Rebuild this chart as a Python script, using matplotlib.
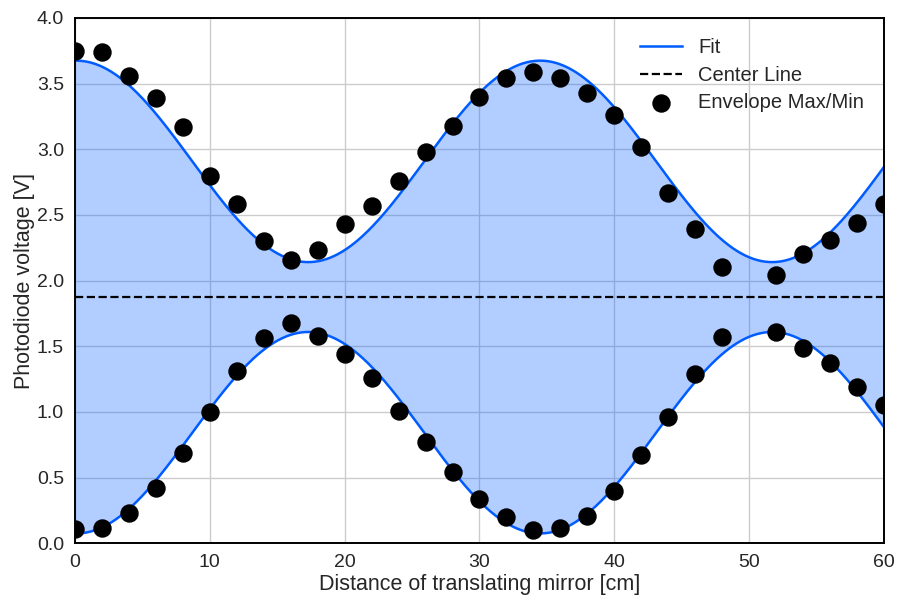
import numpy as np
import matplotlib
matplotlib.use("Agg")
import matplotlib.pyplot as plt

plt.rcParams['font.family'] = ['Liberation Sans', 'DejaVu Sans']

# Measured envelope maxima / minima of the photodiode signal
positions = [0, 2, 4, 6, 8, 10, 12, 14, 16, 18, 20, 22, 24, 26, 28,
             30, 32, 34, 36, 38, 40, 42, 44, 46, 48, 52, 54, 56, 58, 60]
env_max = [3.75, 3.74, 3.56, 3.39, 3.17, 2.80, 2.58, 2.30, 2.16, 2.23, 2.43, 2.57, 2.76, 2.98, 3.18,
           3.40, 3.54, 3.59, 3.54, 3.43, 3.26, 3.02, 2.67, 2.39, 2.10, 2.04, 2.20, 2.31, 2.44, 2.58]
env_min = [0.11, 0.12, 0.23, 0.42, 0.69, 1.00, 1.31, 1.56, 1.68, 1.58, 1.44, 1.26, 1.01, 0.77, 0.54,
           0.34, 0.20, 0.10, 0.12, 0.21, 0.40, 0.67, 0.96, 1.29, 1.57, 1.61, 1.49, 1.37, 1.19, 1.05]

# Fit parameters: center voltage, envelope mean/modulation, beat period, phase
center = 1.875
env_mean = 1.033
env_mod = 0.767
period = 34.4
x_peak = 0.1

x_fit = np.linspace(0, 60, 600)
envelope = env_mean + env_mod * np.cos(2 * np.pi * (x_fit - x_peak) / period)
upper_fit = center + envelope
lower_fit = center - envelope

blue = '#005cff'
text_color = '#262626'

fig = plt.figure(figsize=(8.97, 5.99), dpi=100)
ax = fig.add_axes([0.0836, 0.093, 0.9019, 0.877])

ax.fill_between(x_fit, lower_fit, upper_fit, color=blue, alpha=0.3, linewidth=0, zorder=2)
ax.plot(x_fit, upper_fit, color=blue, lw=1.8, label='Fit', zorder=3)
ax.plot(x_fit, lower_fit, color=blue, lw=1.8, zorder=3)
ax.axhline(center, color='black', lw=1.6, ls='--', label='Center Line', zorder=3)
ax.scatter(positions, env_max, s=150, color='black', label='Envelope Max/Min', zorder=4)
ax.scatter(positions, env_min, s=150, color='black', zorder=4)

ax.set_xlim(0, 60)
ax.set_ylim(0, 4)
ax.set_yticks(np.arange(0, 4.01, 0.5))
ax.set_xticks(np.arange(0, 61, 10))
ax.set_axisbelow(True)
ax.grid(True, color='#cccccc', lw=1.0, zorder=0)
for side in ax.spines.values():
    side.set_color('black')
    side.set_linewidth(1.4)
    side.set_zorder(5)
ax.tick_params(length=0, pad=8, labelsize=14, labelcolor=text_color)

ax.set_xlabel('Distance of translating mirror [cm]', fontsize=15.5, color=text_color, labelpad=2)
ax.set_ylabel('Photodiode voltage [V]', fontsize=15.5, color=text_color, labelpad=1.5)

leg = ax.legend(loc='upper right', frameon=False, fontsize=14.5, handlelength=2.1,
                labelspacing=0.42, borderaxespad=0.6)
for t in leg.get_texts():
    t.set_color(text_color)

fig.savefig('out.png', dpi=100)
